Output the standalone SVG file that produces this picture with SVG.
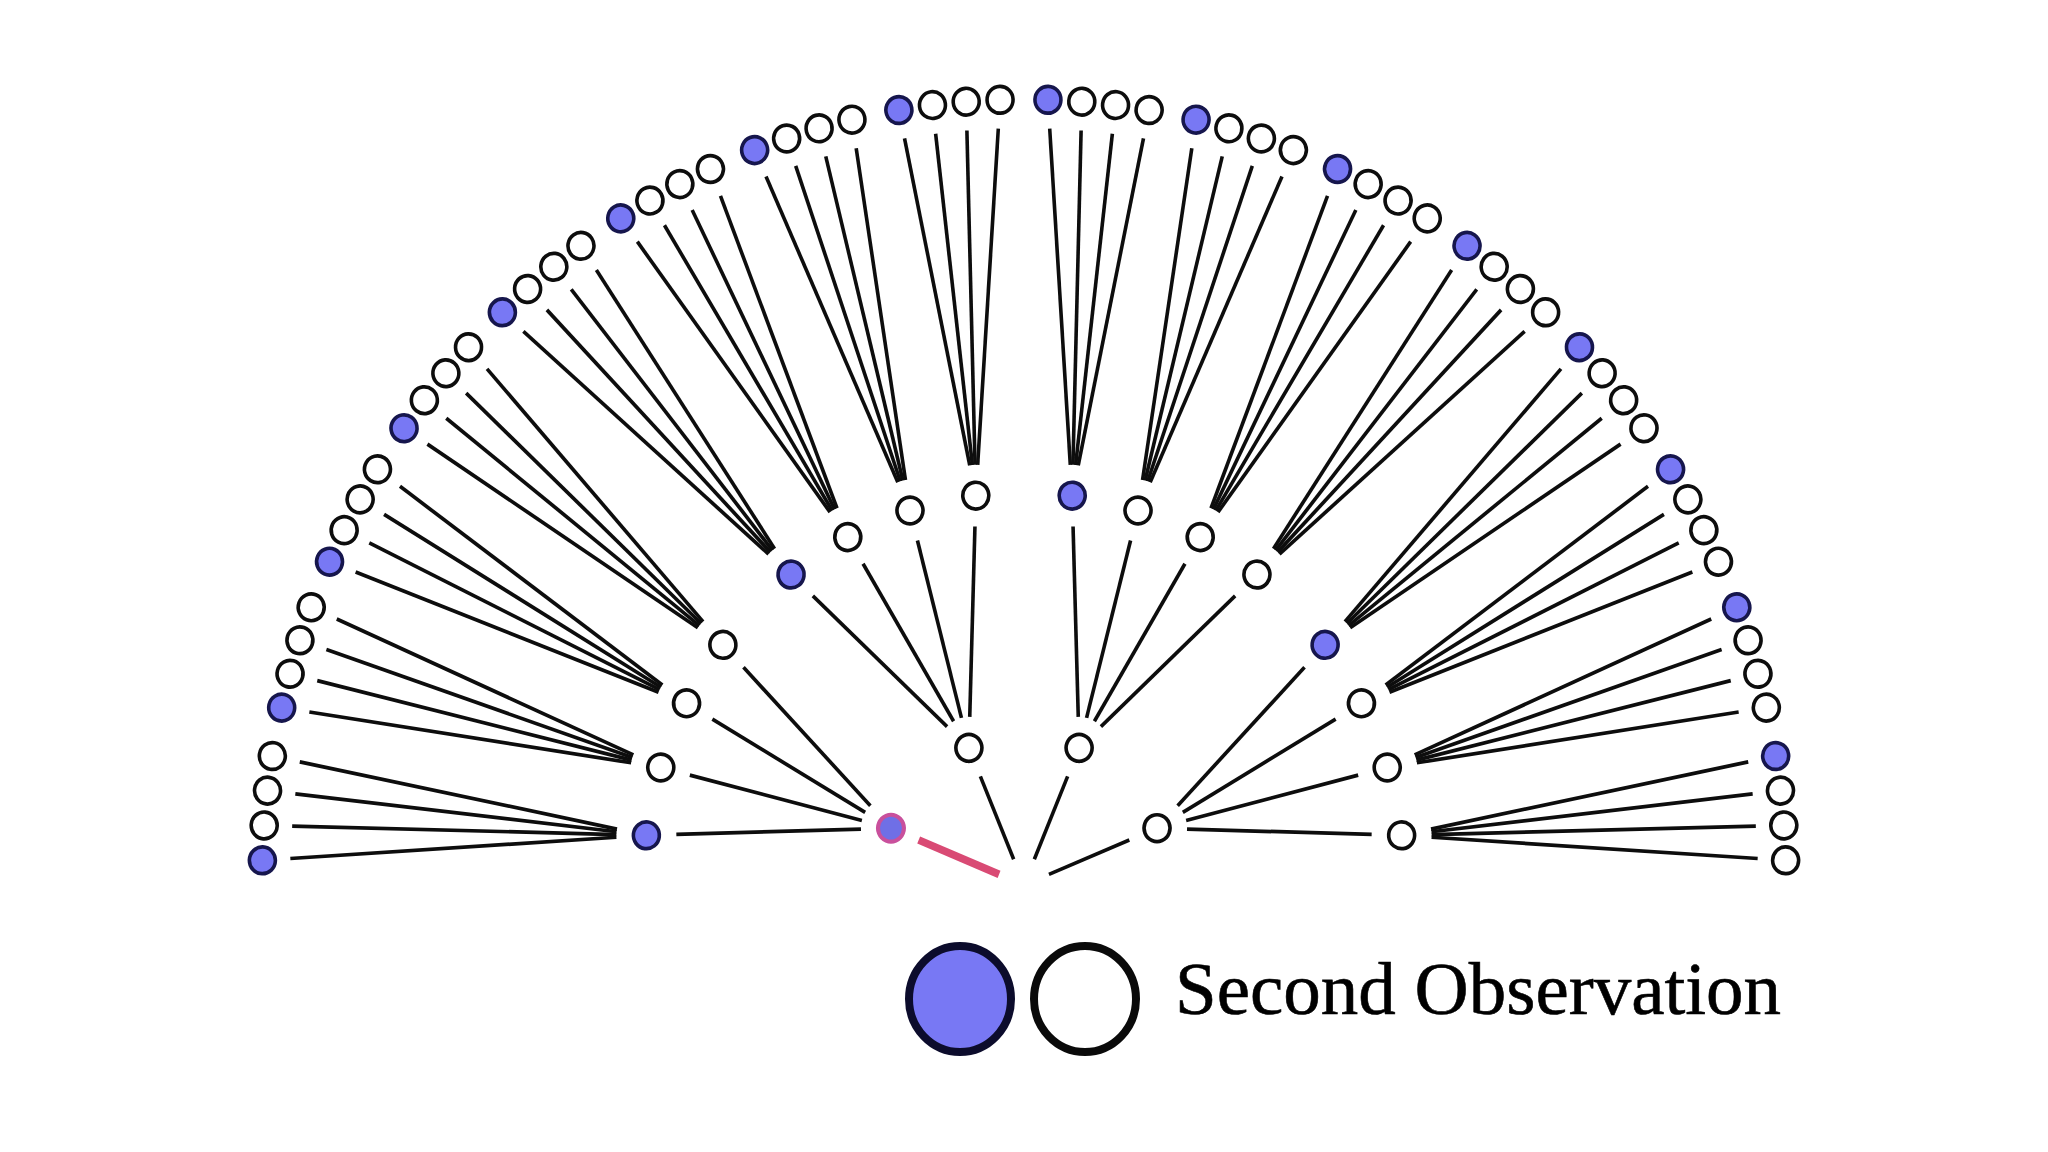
<svg xmlns="http://www.w3.org/2000/svg" width="2048" height="1152" viewBox="0 0 2048 1152">
<style>
.e{stroke:#0d0d0d;stroke-width:3.6;fill:none}
.pk{stroke:#d94a74;stroke-width:7.5;fill:none}
.w{fill:#fff;stroke:#0d0d0d;stroke-width:3.6}
.b{fill:#7878f4;stroke:#16164d;stroke-width:3.6}
.p{fill:#6f6fe6;stroke:#c9509c;stroke-width:4}
.lb{fill:#7878f4;stroke:#0c0c2c;stroke-width:8}
.lw{fill:#fff;stroke:#0a0a0a;stroke-width:8}
.t{font-family:"Liberation Serif","DejaVu Serif",serif;font-size:75px;fill:#000;stroke:#000;stroke-width:0.6}
</style>
<rect width="2048" height="1152" fill="#fff"/>
<g transform="translate(1024 885) scale(1 1.031)">
<g id="connectors">
<g transform="rotate(22.5)"><line class="pk" x1="-27" y1="0" x2="-114" y2="0"/></g>
<g transform="rotate(67.5)"><line class="e" x1="-27" y1="0" x2="-114" y2="0"/></g>
<g transform="rotate(112.5)"><line class="e" x1="-27" y1="0" x2="-114" y2="0"/></g>
<g transform="rotate(157.5)"><line class="e" x1="-27" y1="0" x2="-114" y2="0"/></g>
<g transform="rotate(22.5)"><line class="e" x1="-171.38" y1="12.26" x2="-339.96" y2="87.72"/><line class="e" x1="-173.7" y1="4.25" x2="-349.51" y2="29.43"/><line class="e" x1="-173.7" y1="-4.25" x2="-349.51" y2="-29.43"/><line class="e" x1="-171.38" y1="-12.26" x2="-339.96" y2="-87.72"/></g>
<g transform="rotate(67.5)"><line class="e" x1="-171.38" y1="12.26" x2="-339.96" y2="87.72"/><line class="e" x1="-173.7" y1="4.25" x2="-349.51" y2="29.43"/><line class="e" x1="-173.7" y1="-4.25" x2="-349.51" y2="-29.43"/><line class="e" x1="-171.38" y1="-12.26" x2="-339.96" y2="-87.72"/></g>
<g transform="rotate(112.5)"><line class="e" x1="-171.38" y1="12.26" x2="-339.96" y2="87.72"/><line class="e" x1="-173.7" y1="4.25" x2="-349.51" y2="29.43"/><line class="e" x1="-173.7" y1="-4.25" x2="-349.51" y2="-29.43"/><line class="e" x1="-171.38" y1="-12.26" x2="-339.96" y2="-87.72"/></g>
<g transform="rotate(157.5)"><line class="e" x1="-171.38" y1="12.26" x2="-339.96" y2="87.72"/><line class="e" x1="-173.7" y1="4.25" x2="-349.51" y2="29.43"/><line class="e" x1="-173.7" y1="-4.25" x2="-349.51" y2="-29.43"/><line class="e" x1="-171.38" y1="-12.26" x2="-339.96" y2="-87.72"/></g>
<g transform="rotate(7.275)"><line class="e" x1="-410.16" y1="5.67" x2="-731.02" y2="67.41"/><line class="e" x1="-410.54" y1="3.05" x2="-733.16" y2="36.03"/><line class="e" x1="-410.7" y1="0.39" x2="-733.98" y2="4.62"/><line class="e" x1="-410.61" y1="-2.27" x2="-733.53" y2="-26.8"/></g>
<g transform="rotate(17.425)"><line class="e" x1="-410.35" y1="4.55" x2="-732.1" y2="53.89"/><line class="e" x1="-410.64" y1="1.91" x2="-733.67" y2="22.49"/><line class="e" x1="-410.69" y1="-0.76" x2="-733.95" y2="-8.93"/><line class="e" x1="-410.51" y1="-3.41" x2="-732.94" y2="-40.34"/></g>
<g transform="rotate(27.575)"><line class="e" x1="-410.35" y1="-4.55" x2="-732.1" y2="-53.89"/><line class="e" x1="-410.64" y1="-1.91" x2="-733.67" y2="-22.49"/><line class="e" x1="-410.69" y1="0.76" x2="-733.95" y2="8.93"/><line class="e" x1="-410.51" y1="3.41" x2="-732.94" y2="40.34"/></g>
<g transform="rotate(37.725)"><line class="e" x1="-410.16" y1="-5.67" x2="-731.02" y2="-67.41"/><line class="e" x1="-410.54" y1="-3.05" x2="-733.16" y2="-36.03"/><line class="e" x1="-410.7" y1="-0.39" x2="-733.98" y2="-4.62"/><line class="e" x1="-410.61" y1="2.27" x2="-733.53" y2="26.8"/></g>
<g transform="rotate(52.275)"><line class="e" x1="-410.16" y1="5.67" x2="-731.02" y2="67.41"/><line class="e" x1="-410.54" y1="3.05" x2="-733.16" y2="36.03"/><line class="e" x1="-410.7" y1="0.39" x2="-733.98" y2="4.62"/><line class="e" x1="-410.61" y1="-2.27" x2="-733.53" y2="-26.8"/></g>
<g transform="rotate(62.425)"><line class="e" x1="-410.35" y1="4.55" x2="-732.1" y2="53.89"/><line class="e" x1="-410.64" y1="1.91" x2="-733.67" y2="22.49"/><line class="e" x1="-410.69" y1="-0.76" x2="-733.95" y2="-8.93"/><line class="e" x1="-410.51" y1="-3.41" x2="-732.94" y2="-40.34"/></g>
<g transform="rotate(72.575)"><line class="e" x1="-410.35" y1="-4.55" x2="-732.1" y2="-53.89"/><line class="e" x1="-410.64" y1="-1.91" x2="-733.67" y2="-22.49"/><line class="e" x1="-410.69" y1="0.76" x2="-733.95" y2="8.93"/><line class="e" x1="-410.51" y1="3.41" x2="-732.94" y2="40.34"/></g>
<g transform="rotate(82.725)"><line class="e" x1="-410.16" y1="-5.67" x2="-731.02" y2="-67.41"/><line class="e" x1="-410.54" y1="-3.05" x2="-733.16" y2="-36.03"/><line class="e" x1="-410.7" y1="-0.39" x2="-733.98" y2="-4.62"/><line class="e" x1="-410.61" y1="2.27" x2="-733.53" y2="26.8"/></g>
<g transform="rotate(97.275)"><line class="e" x1="-410.16" y1="5.67" x2="-731.02" y2="67.41"/><line class="e" x1="-410.54" y1="3.05" x2="-733.16" y2="36.03"/><line class="e" x1="-410.7" y1="0.39" x2="-733.98" y2="4.62"/><line class="e" x1="-410.61" y1="-2.27" x2="-733.53" y2="-26.8"/></g>
<g transform="rotate(107.425)"><line class="e" x1="-410.35" y1="4.55" x2="-732.1" y2="53.89"/><line class="e" x1="-410.64" y1="1.91" x2="-733.67" y2="22.49"/><line class="e" x1="-410.69" y1="-0.76" x2="-733.95" y2="-8.93"/><line class="e" x1="-410.51" y1="-3.41" x2="-732.94" y2="-40.34"/></g>
<g transform="rotate(117.575)"><line class="e" x1="-410.35" y1="-4.55" x2="-732.1" y2="-53.89"/><line class="e" x1="-410.64" y1="-1.91" x2="-733.67" y2="-22.49"/><line class="e" x1="-410.69" y1="0.76" x2="-733.95" y2="8.93"/><line class="e" x1="-410.51" y1="3.41" x2="-732.94" y2="40.34"/></g>
<g transform="rotate(127.725)"><line class="e" x1="-410.16" y1="-5.67" x2="-731.02" y2="-67.41"/><line class="e" x1="-410.54" y1="-3.05" x2="-733.16" y2="-36.03"/><line class="e" x1="-410.7" y1="-0.39" x2="-733.98" y2="-4.62"/><line class="e" x1="-410.61" y1="2.27" x2="-733.53" y2="26.8"/></g>
<g transform="rotate(142.275)"><line class="e" x1="-410.16" y1="5.67" x2="-731.02" y2="67.41"/><line class="e" x1="-410.54" y1="3.05" x2="-733.16" y2="36.03"/><line class="e" x1="-410.7" y1="0.39" x2="-733.98" y2="4.62"/><line class="e" x1="-410.61" y1="-2.27" x2="-733.53" y2="-26.8"/></g>
<g transform="rotate(152.425)"><line class="e" x1="-410.35" y1="4.55" x2="-732.1" y2="53.89"/><line class="e" x1="-410.64" y1="1.91" x2="-733.67" y2="22.49"/><line class="e" x1="-410.69" y1="-0.76" x2="-733.95" y2="-8.93"/><line class="e" x1="-410.51" y1="-3.41" x2="-732.94" y2="-40.34"/></g>
<g transform="rotate(162.575)"><line class="e" x1="-410.35" y1="-4.55" x2="-732.1" y2="-53.89"/><line class="e" x1="-410.64" y1="-1.91" x2="-733.67" y2="-22.49"/><line class="e" x1="-410.69" y1="0.76" x2="-733.95" y2="8.93"/><line class="e" x1="-410.51" y1="3.41" x2="-732.94" y2="40.34"/></g>
<g transform="rotate(172.725)"><line class="e" x1="-410.16" y1="-5.67" x2="-731.02" y2="-67.41"/><line class="e" x1="-410.54" y1="-3.05" x2="-733.16" y2="-36.03"/><line class="e" x1="-410.7" y1="-0.39" x2="-733.98" y2="-4.62"/><line class="e" x1="-410.61" y1="2.27" x2="-733.53" y2="26.8"/></g>
</g>
<g id="nodes">
<g id="n1-0" transform="rotate(22.5)"><circle class="p" cx="-144" cy="0" r="13"/></g>
<g id="n1-1" transform="rotate(67.5)"><circle class="w" cx="-144" cy="0" r="13"/></g>
<g id="n1-2" transform="rotate(112.5)"><circle class="w" cx="-144" cy="0" r="13"/></g>
<g id="n1-3" transform="rotate(157.5)"><circle class="w" cx="-144" cy="0" r="13"/></g>
<g id="n2-0" transform="rotate(7.275)"><circle class="b" cx="-380.7" cy="0" r="13"/></g>
<g id="n2-1" transform="rotate(17.425)"><circle class="w" cx="-380.7" cy="0" r="13"/></g>
<g id="n2-2" transform="rotate(27.575)"><circle class="w" cx="-380.7" cy="0" r="13"/></g>
<g id="n2-3" transform="rotate(37.725)"><circle class="w" cx="-380.7" cy="0" r="13"/></g>
<g id="n2-4" transform="rotate(52.275)"><circle class="b" cx="-380.7" cy="0" r="13"/></g>
<g id="n2-5" transform="rotate(62.425)"><circle class="w" cx="-380.7" cy="0" r="13"/></g>
<g id="n2-6" transform="rotate(72.575)"><circle class="w" cx="-380.7" cy="0" r="13"/></g>
<g id="n2-7" transform="rotate(82.725)"><circle class="w" cx="-380.7" cy="0" r="13"/></g>
<g id="n2-8" transform="rotate(97.275)"><circle class="b" cx="-380.7" cy="0" r="13"/></g>
<g id="n2-9" transform="rotate(107.425)"><circle class="w" cx="-380.7" cy="0" r="13"/></g>
<g id="n2-10" transform="rotate(117.575)"><circle class="w" cx="-380.7" cy="0" r="13"/></g>
<g id="n2-11" transform="rotate(127.725)"><circle class="w" cx="-380.7" cy="0" r="13"/></g>
<g id="n2-12" transform="rotate(142.275)"><circle class="b" cx="-380.7" cy="0" r="13"/></g>
<g id="n2-13" transform="rotate(152.425)"><circle class="w" cx="-380.7" cy="0" r="13"/></g>
<g id="n2-14" transform="rotate(162.575)"><circle class="w" cx="-380.7" cy="0" r="13"/></g>
<g id="n2-15" transform="rotate(172.725)"><circle class="w" cx="-380.7" cy="0" r="13"/></g>
<g id="n3-0" transform="rotate(1.8)"><circle class="b" cx="-762" cy="0" r="13"/></g>
<g id="n3-1" transform="rotate(4.35)"><circle class="w" cx="-762" cy="0" r="13"/></g>
<g id="n3-2" transform="rotate(6.9)"><circle class="w" cx="-762" cy="0" r="13"/></g>
<g id="n3-3" transform="rotate(9.45)"><circle class="w" cx="-762" cy="0" r="13"/></g>
<g id="n3-4" transform="rotate(13.05)"><circle class="b" cx="-762" cy="0" r="13"/></g>
<g id="n3-5" transform="rotate(15.6)"><circle class="w" cx="-762" cy="0" r="13"/></g>
<g id="n3-6" transform="rotate(18.15)"><circle class="w" cx="-762" cy="0" r="13"/></g>
<g id="n3-7" transform="rotate(20.7)"><circle class="w" cx="-762" cy="0" r="13"/></g>
<g id="n3-8" transform="rotate(24.3)"><circle class="b" cx="-762" cy="0" r="13"/></g>
<g id="n3-9" transform="rotate(26.85)"><circle class="w" cx="-762" cy="0" r="13"/></g>
<g id="n3-10" transform="rotate(29.4)"><circle class="w" cx="-762" cy="0" r="13"/></g>
<g id="n3-11" transform="rotate(31.95)"><circle class="w" cx="-762" cy="0" r="13"/></g>
<g id="n3-12" transform="rotate(35.55)"><circle class="b" cx="-762" cy="0" r="13"/></g>
<g id="n3-13" transform="rotate(38.1)"><circle class="w" cx="-762" cy="0" r="13"/></g>
<g id="n3-14" transform="rotate(40.65)"><circle class="w" cx="-762" cy="0" r="13"/></g>
<g id="n3-15" transform="rotate(43.2)"><circle class="w" cx="-762" cy="0" r="13"/></g>
<g id="n3-16" transform="rotate(46.8)"><circle class="b" cx="-762" cy="0" r="13"/></g>
<g id="n3-17" transform="rotate(49.35)"><circle class="w" cx="-762" cy="0" r="13"/></g>
<g id="n3-18" transform="rotate(51.9)"><circle class="w" cx="-762" cy="0" r="13"/></g>
<g id="n3-19" transform="rotate(54.45)"><circle class="w" cx="-762" cy="0" r="13"/></g>
<g id="n3-20" transform="rotate(58.05)"><circle class="b" cx="-762" cy="0" r="13"/></g>
<g id="n3-21" transform="rotate(60.6)"><circle class="w" cx="-762" cy="0" r="13"/></g>
<g id="n3-22" transform="rotate(63.15)"><circle class="w" cx="-762" cy="0" r="13"/></g>
<g id="n3-23" transform="rotate(65.7)"><circle class="w" cx="-762" cy="0" r="13"/></g>
<g id="n3-24" transform="rotate(69.3)"><circle class="b" cx="-762" cy="0" r="13"/></g>
<g id="n3-25" transform="rotate(71.85)"><circle class="w" cx="-762" cy="0" r="13"/></g>
<g id="n3-26" transform="rotate(74.4)"><circle class="w" cx="-762" cy="0" r="13"/></g>
<g id="n3-27" transform="rotate(76.95)"><circle class="w" cx="-762" cy="0" r="13"/></g>
<g id="n3-28" transform="rotate(80.55)"><circle class="b" cx="-762" cy="0" r="13"/></g>
<g id="n3-29" transform="rotate(83.1)"><circle class="w" cx="-762" cy="0" r="13"/></g>
<g id="n3-30" transform="rotate(85.65)"><circle class="w" cx="-762" cy="0" r="13"/></g>
<g id="n3-31" transform="rotate(88.2)"><circle class="w" cx="-762" cy="0" r="13"/></g>
<g id="n3-32" transform="rotate(91.8)"><circle class="b" cx="-762" cy="0" r="13"/></g>
<g id="n3-33" transform="rotate(94.35)"><circle class="w" cx="-762" cy="0" r="13"/></g>
<g id="n3-34" transform="rotate(96.9)"><circle class="w" cx="-762" cy="0" r="13"/></g>
<g id="n3-35" transform="rotate(99.45)"><circle class="w" cx="-762" cy="0" r="13"/></g>
<g id="n3-36" transform="rotate(103.05)"><circle class="b" cx="-762" cy="0" r="13"/></g>
<g id="n3-37" transform="rotate(105.6)"><circle class="w" cx="-762" cy="0" r="13"/></g>
<g id="n3-38" transform="rotate(108.15)"><circle class="w" cx="-762" cy="0" r="13"/></g>
<g id="n3-39" transform="rotate(110.7)"><circle class="w" cx="-762" cy="0" r="13"/></g>
<g id="n3-40" transform="rotate(114.3)"><circle class="b" cx="-762" cy="0" r="13"/></g>
<g id="n3-41" transform="rotate(116.85)"><circle class="w" cx="-762" cy="0" r="13"/></g>
<g id="n3-42" transform="rotate(119.4)"><circle class="w" cx="-762" cy="0" r="13"/></g>
<g id="n3-43" transform="rotate(121.95)"><circle class="w" cx="-762" cy="0" r="13"/></g>
<g id="n3-44" transform="rotate(125.55)"><circle class="b" cx="-762" cy="0" r="13"/></g>
<g id="n3-45" transform="rotate(128.1)"><circle class="w" cx="-762" cy="0" r="13"/></g>
<g id="n3-46" transform="rotate(130.65)"><circle class="w" cx="-762" cy="0" r="13"/></g>
<g id="n3-47" transform="rotate(133.2)"><circle class="w" cx="-762" cy="0" r="13"/></g>
<g id="n3-48" transform="rotate(136.8)"><circle class="b" cx="-762" cy="0" r="13"/></g>
<g id="n3-49" transform="rotate(139.35)"><circle class="w" cx="-762" cy="0" r="13"/></g>
<g id="n3-50" transform="rotate(141.9)"><circle class="w" cx="-762" cy="0" r="13"/></g>
<g id="n3-51" transform="rotate(144.45)"><circle class="w" cx="-762" cy="0" r="13"/></g>
<g id="n3-52" transform="rotate(148.05)"><circle class="b" cx="-762" cy="0" r="13"/></g>
<g id="n3-53" transform="rotate(150.6)"><circle class="w" cx="-762" cy="0" r="13"/></g>
<g id="n3-54" transform="rotate(153.15)"><circle class="w" cx="-762" cy="0" r="13"/></g>
<g id="n3-55" transform="rotate(155.7)"><circle class="w" cx="-762" cy="0" r="13"/></g>
<g id="n3-56" transform="rotate(159.3)"><circle class="b" cx="-762" cy="0" r="13"/></g>
<g id="n3-57" transform="rotate(161.85)"><circle class="w" cx="-762" cy="0" r="13"/></g>
<g id="n3-58" transform="rotate(164.4)"><circle class="w" cx="-762" cy="0" r="13"/></g>
<g id="n3-59" transform="rotate(166.95)"><circle class="w" cx="-762" cy="0" r="13"/></g>
<g id="n3-60" transform="rotate(170.55)"><circle class="b" cx="-762" cy="0" r="13"/></g>
<g id="n3-61" transform="rotate(173.1)"><circle class="w" cx="-762" cy="0" r="13"/></g>
<g id="n3-62" transform="rotate(175.65)"><circle class="w" cx="-762" cy="0" r="13"/></g>
<g id="n3-63" transform="rotate(178.2)"><circle class="w" cx="-762" cy="0" r="13"/></g>
</g>
</g>
<g id="legend">
<ellipse class="lb" cx="960" cy="999" rx="51" ry="53"/>
<ellipse class="lw" cx="1085" cy="999" rx="51" ry="53"/>
<text class="t" x="1175" y="1014">Second Observation</text>
</g>
</svg>
